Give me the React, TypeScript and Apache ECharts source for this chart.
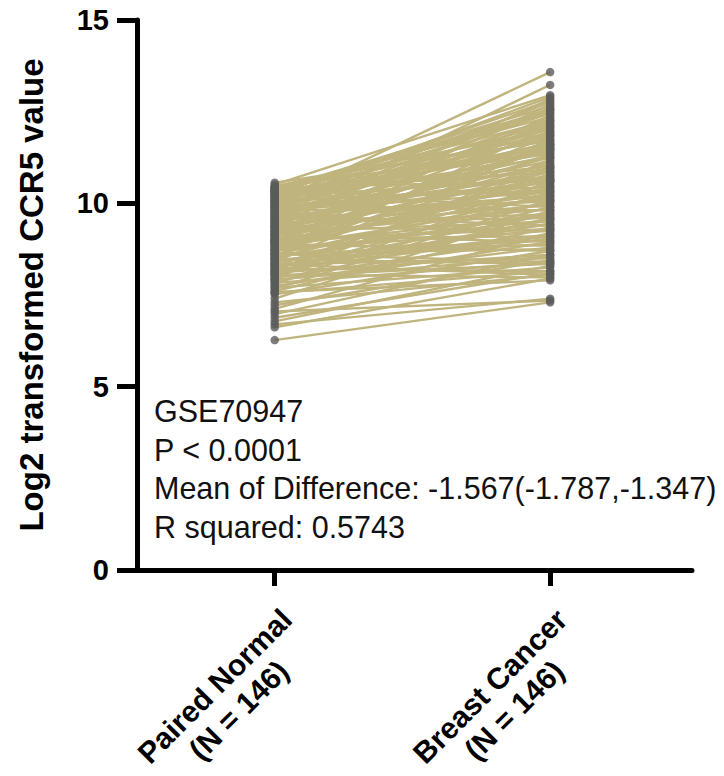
import React, { useEffect, useRef } from "react";
import * as echarts from "echarts";

const categories = ["Paired Normal", "Breast Cancer"];
const groupSizes = [146, 146];
const categoryPositions = [1, 2];

const normalValues = [
  6.27, 6.62, 6.7, 6.78, 6.88, 6.98, 7.05, 7.12, 7.22, 7.3,
  7.4, 7.52, 7.58, 7.61, 7.66, 7.7, 7.74, 7.78, 7.83, 7.86,
  7.9, 7.94, 7.97, 8.01, 8.04, 8.08, 8.11, 8.15, 8.18, 8.22,
  8.25, 8.28, 8.31, 8.34, 8.37, 8.4, 8.43, 8.46, 8.49, 8.52,
  8.55, 8.58, 8.61, 8.64, 8.67, 8.7, 8.72, 8.75, 8.78, 8.8,
  8.83, 8.86, 8.88, 8.91, 8.94, 8.96, 8.99, 9.02, 9.04, 9.07,
  9.1, 9.12, 9.15, 9.17, 9.2, 9.22, 9.25, 9.27, 9.3, 9.32,
  9.35, 9.37, 9.4, 9.42, 9.45, 9.47, 9.5, 9.52, 9.55, 9.57,
  9.6, 9.62, 9.65, 9.67, 9.7, 9.72, 9.75, 9.77, 9.8, 9.82,
  9.85, 9.87, 9.9, 9.92, 9.94, 9.97, 9.99, 10.02, 10.04, 10.06,
  10.09, 10.11, 10.13, 10.16, 10.18, 10.2, 10.23, 10.25, 10.27, 10.29,
  10.31, 10.33, 10.35, 10.37, 10.39, 10.41, 10.44, 10.47, 10.51, 10.56,
  7.55, 7.92, 8.06, 8.2, 8.33, 8.47, 8.62, 8.74, 8.9, 9.0,
  9.13, 9.24, 9.36, 9.48, 9.58, 9.68, 9.78, 9.88, 9.96, 10.08,
  10.17, 10.28, 10.36, 10.44, 8.12, 8.98,
];

const cancerValues = [
  7.3, 7.95, 7.4, 8.3, 8.1, 8.6, 7.35, 9.2, 8.45, 8.05,
  9.8, 8.7, 7.9, 9.35, 10.1, 8.25, 8.95, 10.6, 8.4, 9.6,
  8.8, 11.2, 9.05, 8.35, 9.9, 10.3, 8.6, 9.45, 11.0, 8.15,
  9.7, 10.8, 9.15, 8.5, 10.05, 11.6, 9.3, 8.9, 10.45, 9.75,
  12.1, 9.0, 10.2, 8.75, 11.35, 9.55, 10.65, 9.25, 11.85, 10.0,
  8.85, 10.95, 9.65, 12.4, 10.35, 9.4, 11.1, 10.15, 9.1, 11.5,
  10.5, 12.7, 9.85, 10.85, 11.7, 9.5, 10.25, 12.2, 10.7, 9.95,
  11.25, 12.85, 10.4, 11.45, 9.7, 10.9, 12.55, 11.05, 10.1, 11.9,
  10.6, 13.23, 11.3, 10.2, 12.05, 11.15, 10.75, 12.6, 11.4, 10.3,
  11.95, 12.3, 10.55, 11.65, 12.75, 10.95, 11.55, 13.58, 11.8, 10.45,
  12.45, 11.25, 12.9, 11.6, 10.65, 12.15, 11.75, 12.8, 11.0, 12.5,
  11.35, 12.25, 10.85, 12.65, 11.85, 12.35, 11.5, 12.0, 12.95, 11.7,
  8.15, 8.55, 7.98, 9.1, 8.05, 8.35, 8.4, 10.75, 8.7, 9.3,
  8.95, 11.95, 9.25, 9.6, 12.25, 9.4, 10.05, 12.1, 9.8, 10.35,
  11.45, 9.9, 12.55, 10.6, 9.55, 11.6,
];

const yMin = 0;
const yMax = 15;
const yInterval = 5;

const annotationLines = [
  "GSE70947",
  "P < 0.0001",
  "Mean of Difference: -1.567(-1.787,-1.347)",
  "R squared: 0.5743",
];

export default function App() {
  const ref = useRef<HTMLDivElement>(null);
  useEffect(() => {
    if (!ref.current) return;
    const chart = echarts.init(ref.current, null, { renderer: "svg" });
    const font = 'Arial, "Liberation Sans", Helvetica, sans-serif';
    const pairs = normalValues.map((n, i) => ({
      coords: [
        [categoryPositions[0], n],
        [categoryPositions[1], cancerValues[i]],
      ],
    }));
    const points = [
      ...normalValues.map((n) => [categoryPositions[0], n]),
      ...cancerValues.map((c) => [categoryPositions[1], c]),
    ];
    chart.setOption({
      animation: false,
      backgroundColor: "#ffffff",
      grid: {
        left: 137,
        right: 32,
        top: 20,
        bottom: 206,
        outerBoundsMode: "none",
        containLabel: false,
      },
      xAxis: {
        type: "value",
        min: 0.5,
        max: 2.515,
        splitLine: { show: false },
        axisLine: { show: true, lineStyle: { color: "#000", width: 5 } },
        axisTick: {
          show: true,
          customValues: categoryPositions,
          length: 16,
          lineStyle: { color: "#000", width: 5 },
        },
        axisLabel: {
          customValues: categoryPositions,
          rotate: 45,
          margin: 32,
          verticalAlign: "top",
          formatter: (v: number) => {
            const i = categoryPositions.indexOf(Math.round(v));
            return `{a|${categories[i]}}\n{a|(N = ${groupSizes[i]})}`;
          },
          rich: {
            a: {
              fontFamily: font,
              fontSize: 30,
              fontWeight: "bold",
              color: "#000",
              width: 204,
              align: "center",
              lineHeight: 34,
            },
          },
        },
      },
      yAxis: {
        type: "value",
        min: yMin,
        max: yMax,
        interval: yInterval,
        name: "Log2 transformed CCR5 value",
        nameLocation: "middle",
        nameGap: 89,
        nameTextStyle: {
          fontFamily: font,
          fontSize: 33,
          fontWeight: "bold",
          color: "#000",
        },
        splitLine: { show: false },
        axisLine: { show: true, lineStyle: { color: "#000", width: 5 } },
        axisTick: { show: true, length: 20, lineStyle: { color: "#000", width: 5 } },
        axisLabel: {
          margin: 28,
          fontFamily: font,
          fontSize: 29,
          fontWeight: "bold",
          color: "#000",
        },
      },
      series: [
        {
          type: "lines",
          coordinateSystem: "cartesian2d",
          data: pairs,
          silent: true,
          z: 2,
          lineStyle: { color: "#C0B47E", width: 2.4, opacity: 1 },
        },
        {
          type: "scatter",
          data: points,
          symbol: "circle",
          symbolSize: 8.5,
          z: 3,
          itemStyle: { color: "#5B5B5B" },
        },
      ],
      graphic: [
        {
          type: "text",
          left: 154,
          top: 392,
          style: {
            text: annotationLines.join("\n"),
            fontFamily: font,
            fontSize: 30.5,
            lineHeight: 38.5,
            fill: "#111",
          },
        },
      ],
    });
    return () => chart.dispose();
  }, []);
  return (
    <div
      ref={ref}
      style={{ position: "fixed", left: 0, top: 0, width: 724, height: 776 }}
    />
  );
}
